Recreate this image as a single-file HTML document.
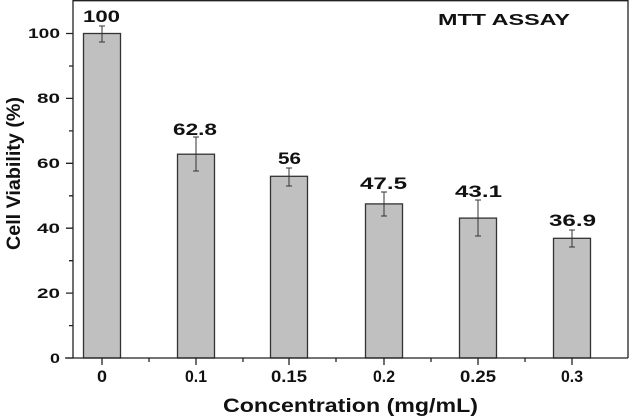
<!DOCTYPE html>
<html><head><style>body{margin:0;background:#fff}svg{display:block}text{font-family:"Liberation Sans",Arial,sans-serif;font-weight:bold;fill:#111}</style></head>
<body>
<svg width="630" height="416" viewBox="0 0 630 416" xmlns="http://www.w3.org/2000/svg">
<g stroke="#333" stroke-width="1.3" fill="#c0c0c0">
<rect x="83.5" y="33.5" width="37" height="324.5"/>
<rect x="177.5" y="154.2" width="37" height="203.8"/>
<rect x="270.5" y="176.3" width="37" height="181.7"/>
<rect x="365.5" y="203.9" width="37" height="154.1"/>
<rect x="459.5" y="218.1" width="37" height="139.9"/>
<rect x="553.5" y="238.3" width="37" height="119.7"/>
</g>
<g stroke="#333" stroke-width="1" fill="none">
<path d="M102 26V42M99 26h6M99 42h6"/>
<path d="M196 137V171M193 137h6M193 171h6"/>
<path d="M289 168V186M286 168h6M286 186h6"/>
<path d="M384 192V216M381 192h6M381 216h6"/>
<path d="M478 200V236M475 200h6M475 236h6"/>
<path d="M572 230V247M569 230h6M569 247h6"/>
</g>
<g stroke="#222" stroke-width="1.3" fill="none">
<path d="M73 0V358M65 358H628M628 0V358M73 0.7H628"/>
<path d="M73 358h-7M73 293.1h-7M73 228.2h-7M73 163.3h-7M73 98.4h-7M73 33.5h-7"/>
<path d="M73 325.6h-4M73 260.7h-4M73 195.8h-4M73 130.9h-4M73 66h-4"/>
<path d="M102 358v7M196 358v7M289 358v7M384 358v7M478 358v7M572 358v7"/>
<path d="M149 358v4M243 358v4M336 358v4M431 358v4M525 358v4"/>
</g>
<g font-size="14">
<text x="50" y="363" textLength="10" lengthAdjust="spacingAndGlyphs">0</text>
<text x="37" y="298" textLength="23" lengthAdjust="spacingAndGlyphs">20</text>
<text x="37" y="233" textLength="23" lengthAdjust="spacingAndGlyphs">40</text>
<text x="37" y="168" textLength="23" lengthAdjust="spacingAndGlyphs">60</text>
<text x="37" y="103" textLength="23" lengthAdjust="spacingAndGlyphs">80</text>
<text x="28" y="38" textLength="32" lengthAdjust="spacingAndGlyphs">100</text>
</g>
<g font-size="17">
<text x="97" y="382" textLength="10" lengthAdjust="spacingAndGlyphs">0</text>
<text x="185" y="382" textLength="22" lengthAdjust="spacingAndGlyphs">0.1</text>
<text x="271" y="382" textLength="36" lengthAdjust="spacingAndGlyphs">0.15</text>
<text x="373" y="382" textLength="22" lengthAdjust="spacingAndGlyphs">0.2</text>
<text x="460" y="382" textLength="36" lengthAdjust="spacingAndGlyphs">0.25</text>
<text x="561" y="382" textLength="22" lengthAdjust="spacingAndGlyphs">0.3</text>
</g>
<g font-size="17">
<text x="83" y="22" textLength="37" lengthAdjust="spacingAndGlyphs">100</text>
<text x="173" y="135" textLength="44" lengthAdjust="spacingAndGlyphs">62.8</text>
<text x="278" y="164" textLength="23" lengthAdjust="spacingAndGlyphs">56</text>
<text x="360" y="189" textLength="47" lengthAdjust="spacingAndGlyphs">47.5</text>
<text x="455" y="197" textLength="47" lengthAdjust="spacingAndGlyphs">43.1</text>
<text x="549" y="226" textLength="47" lengthAdjust="spacingAndGlyphs">36.9</text>
</g>
<text x="438" y="25" font-size="16" textLength="132" lengthAdjust="spacingAndGlyphs">MTT ASSAY</text>
<text x="223" y="412" font-size="19" textLength="255" lengthAdjust="spacingAndGlyphs">Concentration (mg/mL)</text>
<text transform="translate(20,250) rotate(-90)" font-size="19" textLength="153" lengthAdjust="spacingAndGlyphs">Cell Viability (%)</text>
</svg>
</body></html>
